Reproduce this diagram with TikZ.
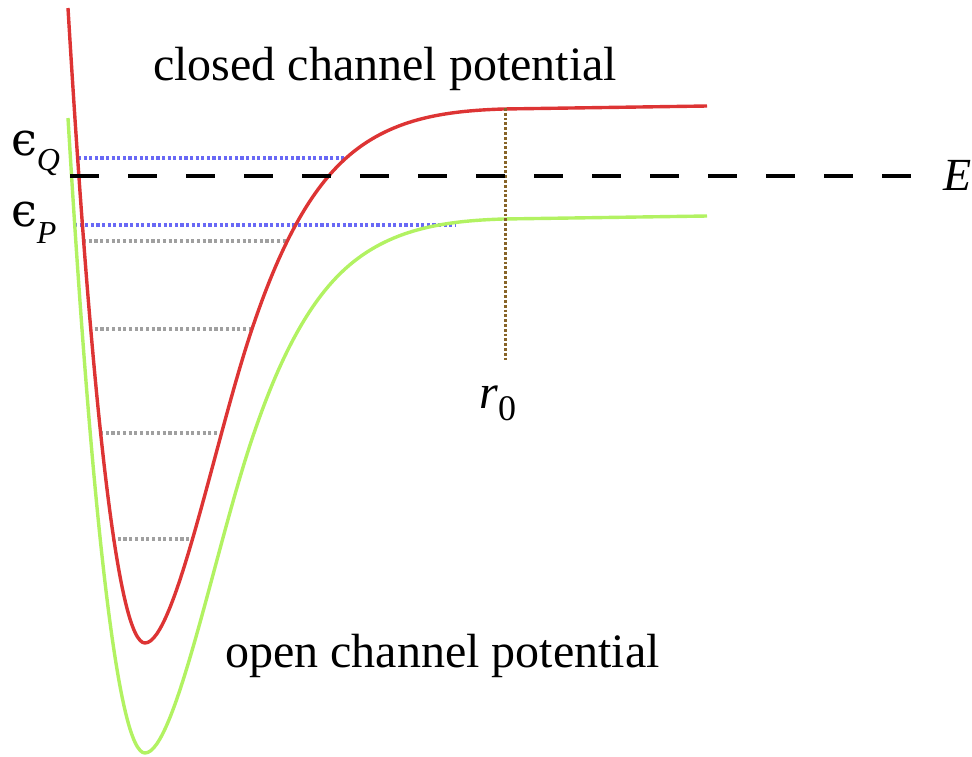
\documentclass[tikz,border=0pt]{standalone}
\usepackage{fontspec}
\setmainfont{Liberation Serif}
\newfontfamily\epsfont{DejaVu Serif}
\definecolor{redc}{RGB}{221,52,52}
\definecolor{greenc}{RGB}{178,242,98}
\definecolor{bluec}{RGB}{105,105,245}
\definecolor{grayc}{RGB}{160,160,160}
\definecolor{brownc}{RGB}{135,100,40}
\tikzset{
  curve/.style={line width=3.4pt, line join=round},
  bluedot/.style={bluec, line width=3.3pt, dash pattern=on 3.1pt off 2.5pt},
  graydot/.style={grayc, line width=3.1pt, dash pattern=on 3.1pt off 2.6pt},
  browndot/.style={brownc, line width=3pt, dash pattern=on 2.7pt off 2.1pt},
  elevel/.style={black, line width=3.6pt, dash pattern=on 29pt off 29pt},
  lbl/.style={inner sep=0pt, anchor=base west},
}
\begin{document}
\begin{tikzpicture}[x=1pt,y=-1pt]
\useasboundingbox (0,0) rectangle (972,756);
% level coordinates
\coordinate (qL) at (78,158);  \coordinate (qR) at (345,158);
\coordinate (pL) at (74,225);  \coordinate (pR) at (455,225);
\coordinate (eL) at (70,176);  \coordinate (eR) at (912,176);
\coordinate (v1L) at (83,241); \coordinate (v1R) at (287,241);
\coordinate (v2L) at (89,329); \coordinate (v2R) at (253,329);
\coordinate (v3L) at (100,433); \coordinate (v3R) at (219,433);
\coordinate (v4L) at (112,539); \coordinate (v4R) at (190,539);
\coordinate (rT) at (505,108); \coordinate (rB) at (505,360);
% dotted levels
\draw[graydot] (v1L) -- (v1R);
\draw[graydot] (v2L) -- (v2R);
\draw[graydot] (v3L) -- (v3R);
\draw[graydot] (v4L) -- (v4R);
\draw[bluedot] (qL) -- (qR);
\draw[bluedot] (pL) -- (pR);
% potentials (green = red shifted down)
\foreach \s/\c in {110/greenc,0/redc}{
  \draw[curve, \c, shift={(0,\s)}]
    (68,8) .. controls (92,408) and (118,643) .. (145,643)
    .. controls (175,643) and (215,439) .. (252,329)
    .. controls (272.2,269) and (301,199) .. (345,159)
    .. controls (389,119) and (443,111) .. (503,109) -- (707,106);
}
\draw[browndot] (rT) -- (rB);
\draw[elevel] (eL) -- (eR);
% labels
\node[lbl] (closed) at (153,80) {\fontsize{48}{48}\selectfont closed channel potential};
\node[lbl] (open) at (225,667) {\fontsize{48}{48}\selectfont open channel potential};
\node[lbl] (E) at (943,190) {\fontsize{46}{46}\selectfont\textit{E}};
\node[lbl] (r0) at (479,408) {\fontsize{48}{48}\selectfont\textit{r}\raisebox{-12pt}{\fontsize{36}{36}\selectfont 0}};
\node[lbl] (epsQ) at (11,155) {\fontsize{46}{46}\epsfont ϵ\raisebox{-15pt}{\fontsize{32}{32}\rmfamily\itshape Q}};
\node[lbl] (epsP) at (11,226) {\fontsize{46}{46}\epsfont ϵ\raisebox{-17pt}{\fontsize{32}{32}\rmfamily\itshape P}};
\end{tikzpicture}
\end{document}
